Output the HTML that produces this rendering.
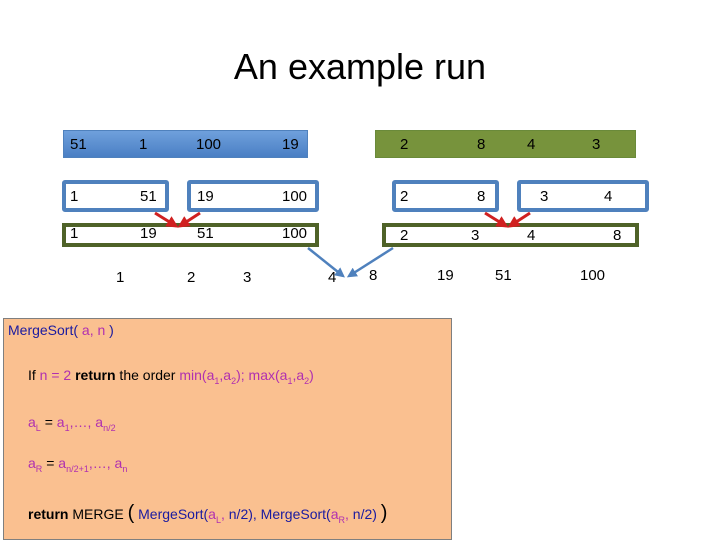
<!DOCTYPE html>
<html><head><meta charset="utf-8"><style>
body{margin:0;width:720px;height:540px;background:#fff;position:relative;overflow:hidden;font-family:"Liberation Sans",sans-serif;}
.a{position:absolute;}
.t{position:absolute;font-size:15px;color:#000;line-height:1;}
.box{position:absolute;box-sizing:border-box;}
.code{position:absolute;font-size:14px;line-height:1;}
.m{color:#b030b0}.b{color:#1a1aa0}
sub{font-size:9px}
</style></head><body>
<div class="a" style="left:0;top:46px;width:720px;text-align:center;font-size:36px;">An example run</div>

<div class="box" style="left:63px;top:130px;width:245px;height:28px;background:linear-gradient(#6fa0dc,#4a7fc4);border:1px solid #4f81bd"></div>
<div class="box" style="left:375px;top:130px;width:261px;height:28px;background:#77933c;border:1px solid #6a8a3a"></div>
<div class="t" style="left:70px;top:137px">51</div><div class="t" style="left:139px;top:137px">1</div><div class="t" style="left:196px;top:137px">100</div><div class="t" style="left:282px;top:137px">19</div>
<div class="t" style="left:400px;top:137px">2</div><div class="t" style="left:477px;top:137px">8</div><div class="t" style="left:527px;top:137px">4</div><div class="t" style="left:592px;top:137px">3</div>

<div class="box" style="left:62px;top:180px;width:107px;height:32px;border:4px solid #4f81bd;border-radius:3px"></div>
<div class="box" style="left:187px;top:180px;width:132px;height:32px;border:4px solid #4f81bd;border-radius:3px"></div>
<div class="box" style="left:392px;top:180px;width:107px;height:32px;border:4px solid #4f81bd;border-radius:3px"></div>
<div class="box" style="left:517px;top:180px;width:132px;height:32px;border:4px solid #4f81bd;border-radius:3px"></div>
<div class="t" style="left:70px;top:189px">1</div><div class="t" style="left:140px;top:189px">51</div><div class="t" style="left:197px;top:189px">19</div><div class="t" style="left:282px;top:189px">100</div>
<div class="t" style="left:400px;top:189px">2</div><div class="t" style="left:477px;top:189px">8</div><div class="t" style="left:540px;top:189px">3</div><div class="t" style="left:604px;top:189px">4</div>

<div class="box" style="left:62px;top:223px;width:257px;height:24px;border:4px solid #4f6228"></div>
<div class="box" style="left:382px;top:223px;width:257px;height:24px;border:4px solid #4f6228"></div>
<div class="t" style="left:70px;top:226px">1</div><div class="t" style="left:140px;top:226px">19</div><div class="t" style="left:197px;top:226px">51</div><div class="t" style="left:282px;top:226px">100</div>
<div class="t" style="left:400px;top:228px">2</div><div class="t" style="left:471px;top:228px">3</div><div class="t" style="left:527px;top:228px">4</div><div class="t" style="left:613px;top:228px">8</div>

<div class="t" style="left:116px;top:270px">1</div><div class="t" style="left:187px;top:270px">2</div><div class="t" style="left:243px;top:270px">3</div><div class="t" style="left:328px;top:270px">4</div><div class="t" style="left:369px;top:268px">8</div><div class="t" style="left:437px;top:268px">19</div><div class="t" style="left:495px;top:268px">51</div><div class="t" style="left:580px;top:268px">100</div>

<svg class="a" style="left:0;top:0" width="720" height="540">
<defs>
<marker id="r" markerWidth="4" markerHeight="4" refX="3" refY="2" orient="auto"><path d="M0,0L4,2L0,4z" fill="#d02020"/></marker>
<marker id="bl" markerWidth="4" markerHeight="4" refX="3" refY="2" orient="auto"><path d="M0,0L4,2L0,4z" fill="#4f81bd"/></marker>
</defs>
<g stroke="#d02020" stroke-width="3"><line x1="155" y1="213" x2="176" y2="226" marker-end="url(#r)"/><line x1="200" y1="213" x2="180" y2="226" marker-end="url(#r)"/>
<line x1="485" y1="213" x2="506" y2="226" marker-end="url(#r)"/><line x1="530" y1="213" x2="510" y2="226" marker-end="url(#r)"/></g>
<g stroke="#4f81bd" stroke-width="2.5"><line x1="308" y1="248" x2="343" y2="276" marker-end="url(#bl)"/><line x1="393" y1="248" x2="349" y2="276" marker-end="url(#bl)"/></g>
</svg>

<div class="box" style="left:3px;top:318px;width:449px;height:222px;background:#fac090;border:1px solid #7f7f7f"></div>
<div class="code b" style="left:8px;top:323px">MergeSort( <span class="m">a, n</span> )</div>
<div class="code" style="left:28px;top:368px">If <span class="m">n = 2</span> <b>return</b> the order <span class="m">min(a<sub>1</sub>,a<sub>2</sub>); max(a<sub>1</sub>,a<sub>2</sub>)</span></div>
<div class="code m" style="left:28px;top:415px">a<sub>L</sub> <span style="color:#000">=</span> a<sub>1</sub>,…, a<sub>n/2</sub></div>
<div class="code m" style="left:28px;top:456px">a<sub>R</sub> <span style="color:#000">=</span> a<sub>n/2+1</sub>,…, a<sub>n</sub></div>
<div class="code" style="left:28px;top:503px"><b>return</b> MERGE <span style="font-size:20px">(</span> <span class="b">MergeSort(<span class="m">a<sub>L</sub>,</span> n/2), MergeSort(<span class="m">a<sub>R</sub>,</span> n/2)</span> <span style="font-size:20px">)</span></div>
</body></html>
